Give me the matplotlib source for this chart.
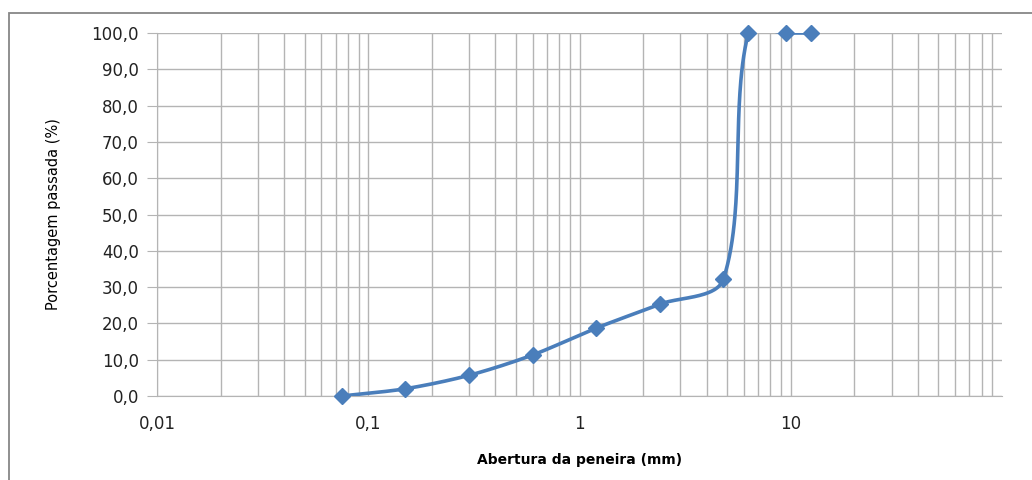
import numpy as np
import matplotlib.pyplot as plt
from matplotlib.patches import Rectangle
from matplotlib.ticker import LogLocator, FixedLocator, FuncFormatter

# sieve openings (mm) and percent passing
abertura = [0.075, 0.15, 0.3, 0.6, 1.2, 2.4, 4.8, 6.3, 9.5, 12.5]
passada = [0.0, 2.0, 5.7, 11.3, 18.7, 25.3, 32.2, 100.0, 100.0, 100.0]
y_ticks = [0, 10, 20, 30, 40, 50, 60, 70, 80, 90, 100]
x_ticks = [0.01, 0.1, 1, 10]
x_tick_labels = ["0,01", "0,1", "1", "10"]

blue = "#4A7EBB"
grid_c = "#b4b4b4"

fig = plt.figure(figsize=(10.32, 4.8), dpi=100)
ax = fig.add_axes([157/1032, 1-396/480, 845/1032, 363/480])

# outer chart frame
fig.patches.append(Rectangle((9/1032, -0.2), 1.2, 1.2 - 13/480, transform=fig.transFigure,
                             fill=False, edgecolor="#878787", linewidth=1.3))

ax.set_xscale("log")
ax.set_xlim(0.01, 100)
ax.set_ylim(0, 100)


def smooth(ax, xs, ys, k=0.3, n=60):
    # smoothed line like Excel: bezier segments, handles scaled by segment length
    pts = ax.transData.transform(np.column_stack([xs, ys]))

    def unit(v):
        return v / np.hypot(*v)

    out = []
    for i in range(len(pts) - 1):
        p0 = pts[i - 1] if i > 0 else pts[i]
        p1, p2 = pts[i], pts[i + 1]
        p3 = pts[i + 2] if i + 2 < len(pts) else pts[i + 1]
        L = np.hypot(*(p2 - p1))
        c1 = p1 + unit(p2 - p0) * L * k
        c2 = p2 - unit(p3 - p1) * L * k
        t = np.linspace(0, 1, n)[:, None]
        seg = (1-t)**3*p1 + 3*(1-t)**2*t*c1 + 3*(1-t)*t**2*c2 + t**3*p2
        out.append(seg)
    out = np.vstack(out)
    return ax.transData.inverted().transform(out)


curve = smooth(ax, abertura, passada)
ax.plot(curve[:, 0], curve[:, 1], color=blue, linewidth=2.6, zorder=3,
        solid_capstyle="round")
ax.plot(abertura, passada, linestyle="none", marker="D", markersize=8.5,
        color=blue, clip_on=False, zorder=4)

ax.xaxis.set_major_locator(FixedLocator(x_ticks))
ax.xaxis.set_minor_locator(LogLocator(base=10, subs=np.arange(2, 10)))
ax.xaxis.set_major_formatter(FuncFormatter(lambda v, p: x_tick_labels[x_ticks.index(v)] if v in x_ticks else ""))
ax.xaxis.set_minor_formatter(FuncFormatter(lambda v, p: ""))
ax.set_yticks(y_ticks)
ax.yaxis.set_major_formatter(FuncFormatter(lambda v, p: f"{v:.1f}".replace(".", ",")))

ax.grid(True, which="major", color=grid_c, linewidth=1.0)
ax.grid(True, which="minor", axis="x", color=grid_c, linewidth=1.0)
ax.set_axisbelow(True)

for s in ["top", "right"]:
    ax.spines[s].set_visible(False)
ax.spines["left"].set_color(grid_c)
ax.spines["bottom"].set_color(grid_c)

ax.tick_params(axis="y", which="major", length=7, color=grid_c, labelsize=12,
               labelcolor="#222222", pad=6)
ax.tick_params(axis="x", which="both", length=0, labelsize=12, labelcolor="#222222", pad=14)

ax.set_xlabel("Abertura da peneira (mm)", fontsize=10, fontweight="bold", labelpad=14)
ax.set_ylabel("Porcentagem passada (%)", fontsize=10.5, family=["Liberation Sans Narrow", "DejaVu Sans"],
              labelpad=22)

fig.savefig("out.png", dpi=100)
